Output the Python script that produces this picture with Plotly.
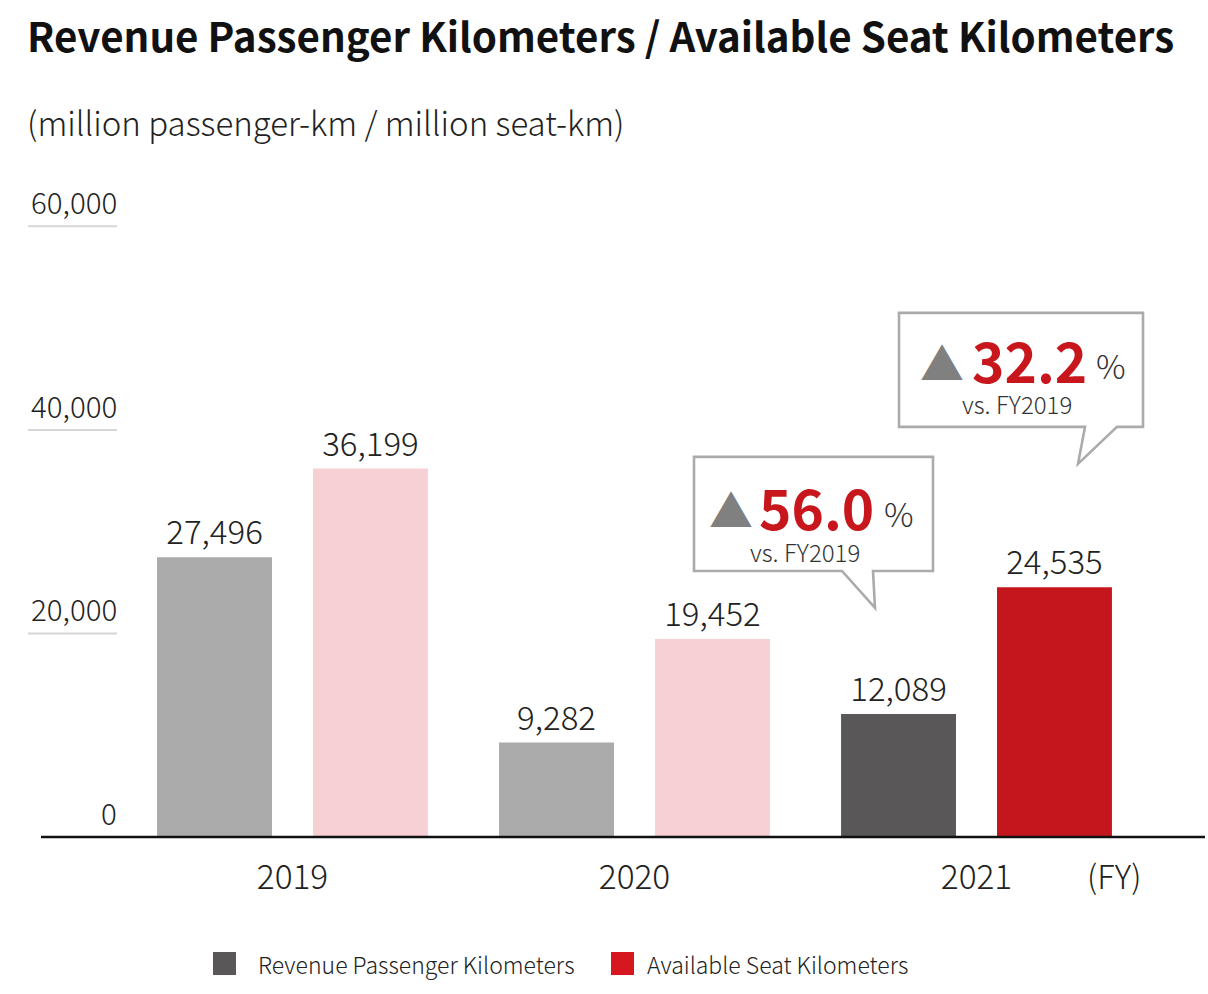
import plotly.graph_objects as go

# ---------------- data ----------------
YEARS = ["2019", "2020", "2021"]
RPK = [27496, 9282, 12089]
ASK = [36199, 19452, 24535]
SERIES_NAMES = ["Revenue Passenger Kilometers", "Available Seat Kilometers"]
Y_TICKS = [0, 20000, 40000, 60000]
CHANGE_RPK = "56.0"
CHANGE_ASK = "32.2"
VS_LABEL = "vs. FY2019"
TITLE = "Revenue Passenger Kilometers / Available Seat Kilometers"
SUBTITLE = "(million passenger-km / million seat-km)"
FY_LABEL = "(FY)"

# ---------------- styles ----------------
RPK_COLORS = ["#ababab", "#ababab", "#595757"]
ASK_COLORS = ["#f6d0d5", "#f6d0d5", "#c4161c"]
LEGEND_COLORS = ["#595757", "#d7171f"]
RED_TEXT = "#c8161d"
FONT = "Noto Sans CJK JP, Noto Sans, sans-serif"
LIGHT_FONT = "Noto Sans CJK JP Light, Noto Sans CJK JP, Noto Sans, sans-serif"

W, H = 1208, 994
ZERO_PX = 837.0
TOP_TICK_PX = 226.5
YMAX = 62000
K = (ZERO_PX - TOP_TICK_PX) / 60000
PH = YMAX * K
MT = ZERO_PX - PH
MB = H - ZERO_PX
ML, MR = 28, 3
PW = W - ML - MR
CAT0_PX, CAT_STEP = 292.5, 342.0
X_RANGE = [(ML - CAT0_PX) / CAT_STEP, (W - MR - CAT0_PX) / CAT_STEP]


def px2x(px):
    return (px - ML) / PW


def py2y(py):
    return (ZERO_PX - py) / PH


def text_ann(text, x_px, baseline_px, size, anchor="left", color="#222222", weight=300, family=LIGHT_FONT):
    return dict(text=text, xref="paper", yref="paper", x=px2x(x_px),
                y=py2y(baseline_px + 0.288 * size), xanchor=anchor, yanchor="bottom",
                showarrow=False, borderpad=0, borderwidth=0,
                font=dict(family=family, size=size, color=color, weight=weight))


def glyph_ann(text, cx_px, cy_px, size, color):
    return dict(text=text, xref="paper", yref="paper", x=px2x(cx_px),
                y=py2y(cy_px - 0.056 * size), xanchor="center", yanchor="middle",
                showarrow=False, borderpad=0, borderwidth=0,
                font=dict(family=FONT, size=size, color=color))


def path_from_px(points):
    parts = []
    for i, (px, py) in enumerate(points):
        parts.append(("M" if i == 0 else "L") + f"{px2x(px):.5f},{py2y(py):.5f}")
    return " ".join(parts) + " Z"


fig = go.Figure()
fig.add_trace(go.Bar(
    x=YEARS, y=RPK, name=SERIES_NAMES[0], marker=dict(color=RPK_COLORS, line=dict(width=0)),
    texttemplate="%{y:,}", textposition="outside", cliponaxis=False,
    textfont=dict(family=LIGHT_FONT, size=33, color="#222222", weight=300), showlegend=False))
fig.add_trace(go.Bar(
    x=YEARS, y=ASK, name=SERIES_NAMES[1], marker=dict(color=ASK_COLORS, line=dict(width=0)),
    texttemplate="%{y:,}", textposition="outside", cliponaxis=False,
    textfont=dict(family=LIGHT_FONT, size=33, color="#222222", weight=300), showlegend=False))

annotations = []
shapes = []

# title & subtitle
annotations.append(text_ann(TITLE, 27, 53, 40.3, color="#111111", weight=700, family=FONT))
annotations.append(text_ann(SUBTITLE, 27, 137, 33, color="#222222"))

# y tick labels + short grid segments
for v in Y_TICKS:
    annotations.append(dict(text=f"{v:,}", xref="paper", x=px2x(117), xanchor="right",
                            yref="y", y=v, yanchor="bottom", yshift=4, showarrow=False,
                            borderpad=0, borderwidth=0,
                            font=dict(family=LIGHT_FONT, size=29.5, color="#222222", weight=300)))
    if v > 0:
        shapes.append(dict(type="line", xref="paper", yref="y", x0=px2x(28), x1=px2x(117),
                           y0=v, y1=v, line=dict(color="#d6d6d6", width=2), layer="below"))

# baseline
shapes.append(dict(type="line", xref="paper", yref="paper", x0=px2x(41), x1=1, y0=0, y1=0,
                   line=dict(color="#111111", width=2.5), layer="above"))

# FY label
annotations.append(text_ann(FY_LABEL, 1087, 889, 32.5))

# legend
for i, (name, col) in enumerate(zip(SERIES_NAMES, LEGEND_COLORS)):
    sx = [213, 611][i]
    tx = [258, 647][i]
    shapes.append(dict(type="rect", xref="paper", yref="paper", x0=px2x(sx), x1=px2x(sx + 23),
                       y0=py2y(975), y1=py2y(952), fillcolor=col, line=dict(width=0)))
    annotations.append(text_ann(name, tx, 974, 23))

# callouts
callouts = [
    dict(pts=[(694, 457), (933, 457), (933, 571), (873, 571), (875, 608), (842, 571), (694, 571)],
         tri=(730.5, 511.5), num=(759, 530), pct=(884, 528), vs=(805, 562), val=CHANGE_RPK),
    dict(pts=[(899, 313), (1143, 313), (1143, 427), (1117, 427), (1078, 464), (1085, 427), (899, 427)],
         tri=(941.5, 364.5), num=(972, 383), pct=(1096, 380), vs=(1017, 414), val=CHANGE_ASK),
]
for c in callouts:
    shapes.append(dict(type="path", xref="paper", yref="paper", path=path_from_px(c["pts"]),
                       line=dict(color="#ababab", width=2.6), fillcolor="white", layer="above"))
    annotations.append(glyph_ann("▲", c["tri"][0], c["tri"][1], 44, "#808080"))
    annotations.append(text_ann(c["val"], c["num"][0], c["num"][1], 55, color=RED_TEXT, weight=700,
                                family=FONT))
    annotations.append(text_ann("%", c["pct"][0], c["pct"][1], 33, color="#333333"))
    annotations.append(text_ann(VS_LABEL, c["vs"][0], c["vs"][1], 24, anchor="center", color="#333333"))

fig.update_layout(
    width=W, height=H, autosize=False,
    margin=dict(l=ML, r=MR, t=MT, b=MB, pad=0),
    paper_bgcolor="white", plot_bgcolor="white",
    barmode="group", bargap=0.088, bargroupgap=0.263,
    font=dict(family=FONT, color="#222222"),
    xaxis=dict(type="category", range=X_RANGE, showgrid=False, zeroline=False, showline=False,
               ticks="", tickfont=dict(family=LIGHT_FONT, size=33.4, color="#222222", weight=300),
               ticklabelstandoff=18),
    yaxis=dict(range=[0, YMAX], showgrid=False, zeroline=False, showline=False,
               showticklabels=False, ticks=""),
    annotations=annotations, shapes=shapes,
)

fig.write_html("out.html", config={"displayModeBar": False},
               post_script="document.body.style.margin='0px';")
